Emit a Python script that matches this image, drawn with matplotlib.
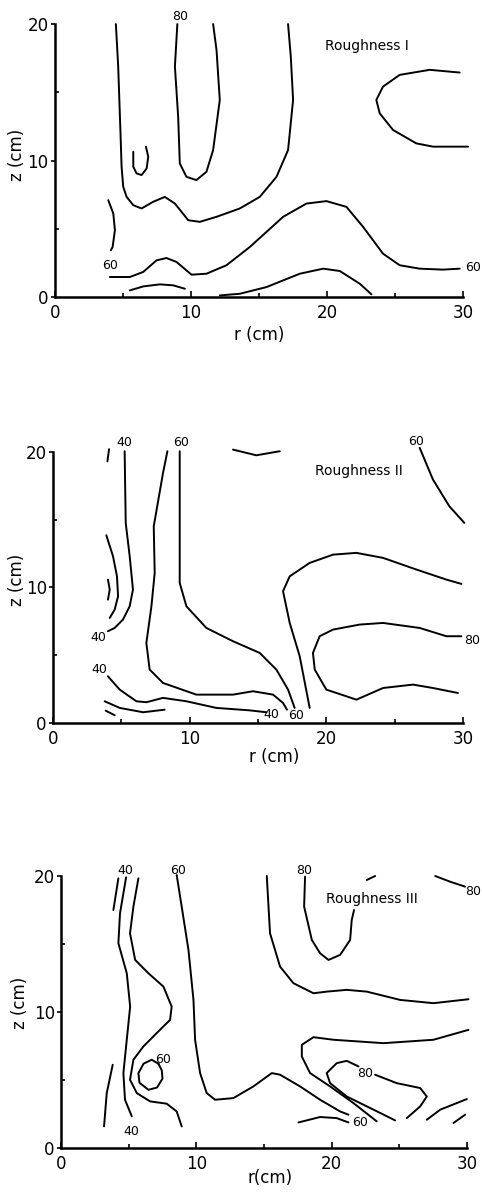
import matplotlib.pyplot as plt
from matplotlib.ticker import MultipleLocator

plt.rcParams['font.family'] = ['DejaVu Sans']

## contour lines, (r, z) in cm

# Roughness I
r1_outer = [(4.48, 20.0), (4.65, 16.9), (4.82, 12.0), (4.9, 9.55), (5.02, 8.08), (5.27, 7.34),
            (5.76, 6.73), (6.37, 6.49), (7.22, 6.98), (8.08, 7.34), (8.82, 6.85), (9.80, 5.63),
            (10.65, 5.51), (11.88, 5.88), (13.59, 6.49), (15.06, 7.34), (16.29, 8.81),
            (17.14, 10.77), (17.51, 14.44), (17.34, 17.63), (17.14, 20.0)]
r1_80 = [(9.0, 20.0), (8.82, 16.9), (9.06, 13.2), (9.18, 9.79), (9.67, 8.81), (10.4, 8.57),
         (11.14, 9.18), (11.63, 10.77), (12.12, 14.44), (11.88, 18.1), (11.63, 20.0)]
r1_u = [(5.76, 10.65), (5.76, 9.55), (6.0, 9.06), (6.37, 8.94), (6.74, 9.42), (6.86, 10.28),
        (6.69, 11.02)]
r1_right = [(29.76, 16.45), (27.56, 16.65), (25.35, 16.28), (24.12, 15.42), (23.63, 14.44),
            (23.88, 13.46), (24.86, 12.24), (26.57, 11.26), (27.8, 11.02), (30.37, 11.02)]
r1_60 = [(4.04, 1.47), (5.51, 1.47), (6.49, 1.84), (7.47, 2.69), (8.2, 2.86), (8.94, 2.57),
         (10.04, 1.64), (11.14, 1.71), (12.61, 2.33), (14.33, 3.67), (16.78, 5.88),
         (18.49, 6.85), (19.96, 7.03), (21.43, 6.61), (22.66, 5.14), (24.12, 3.18),
         (25.35, 2.33), (26.82, 2.08), (28.53, 2.01), (29.76, 2.08)]
r1_left = [(3.92, 7.1), (4.29, 6.12), (4.41, 4.9), (4.24, 3.67), (4.11, 3.43)]
r1_low1 = [(5.51, 0.49), (6.49, 0.78), (7.71, 0.93), (8.69, 0.86), (9.55, 0.61)]
r1_low2 = [(12.12, 0.12), (13.59, 0.24), (15.55, 0.73), (18.0, 1.71), (19.72, 2.08),
           (20.94, 1.91), (22.41, 0.98), (23.27, 0.2)]
r1_labels = [("80", 9.18, 20.56), ("60", 4.04, 2.33), ("60", 30.74, 2.2)]

# Roughness II
r2_tick = [(3.98, 19.3), (4.1, 20.2)]
r2_40 = [(5.24, 20.05), (5.32, 14.76), (5.61, 12.3), (5.85, 9.84), (5.61, 8.61), (5.12, 7.63),
         (4.51, 7.01), (4.02, 6.77)]
r2_arc = [(3.9, 13.85), (4.39, 12.3), (4.68, 10.82), (4.76, 9.35), (4.51, 8.36), (4.15, 7.75)]
r2_arc2 = [(4.02, 10.58), (4.15, 9.84), (4.02, 9.1)]
r2_60a = [(8.37, 20.05), (8.05, 18.45), (7.37, 14.51), (7.44, 11.07), (7.2, 8.61), (6.83, 5.9),
          (7.07, 3.94), (8.05, 2.95), (10.49, 2.09), (13.17, 2.09), (14.63, 2.34), (16.1, 2.09),
          (16.83, 1.48), (17.12, 0.98)]
r2_60b = [(9.27, 20.05), (9.27, 10.33), (9.76, 8.61), (11.22, 7.01), (13.17, 6.03),
          (15.12, 5.17), (16.34, 3.94), (17.2, 2.46), (17.68, 1.11)]
r2_top = [(13.17, 20.17), (14.88, 19.75), (16.59, 20.05)]
r2_60r = [(26.83, 20.3), (27.8, 17.96), (29.0, 15.99), (30.1, 14.76)]
r2_70 = [(18.78, 1.11), (18.05, 4.92), (17.32, 7.38), (16.83, 9.72), (17.32, 10.82),
         (18.78, 11.81), (20.49, 12.42), (22.2, 12.55), (24.15, 12.18), (26.59, 11.32),
         (28.78, 10.58), (29.88, 10.26)]
r2_80 = [(29.88, 6.4), (28.78, 6.4), (26.83, 7.01), (24.15, 7.38), (22.44, 7.26), (20.49, 6.89),
         (19.51, 6.4), (19.02, 5.17), (19.15, 3.94), (20.0, 2.46), (22.2, 1.72), (24.15, 2.58),
         (26.34, 2.83), (27.8, 2.58), (29.63, 2.21)]
r2_40b = [(4.02, 3.44), (4.88, 2.46), (6.1, 1.6), (6.83, 1.53), (8.05, 1.85), (9.76, 1.6),
          (11.95, 1.11), (14.39, 0.93), (15.61, 0.79)]
r2_low1 = [(3.78, 1.6), (4.88, 1.11), (6.59, 0.79), (8.17, 0.98)]
r2_low2 = [(3.85, 0.91), (4.51, 0.57)]
r2_labels = [("40", 5.24, 20.66), ("60", 9.39, 20.66), ("60", 26.59, 20.79), ("40", 3.29, 6.27),
             ("40", 3.41, 3.94), ("40", 15.98, 0.62), ("60", 17.8, 0.54), ("80", 30.68, 6.1)]

# Roughness III
r3_tick = [(3.87, 17.5), (4.24, 19.83)]
r3_40 = [(4.81, 19.9), (4.36, 17.26), (4.24, 15.06), (4.86, 12.85), (5.11, 10.4), (4.86, 7.96),
         (4.61, 5.51), (4.73, 3.55), (5.23, 2.33)]
r3_left = [(3.82, 6.12), (3.38, 4.04), (3.18, 1.59)]
r3_50 = [(5.72, 19.83), (5.35, 17.75), (5.1, 15.79), (5.48, 13.83), (6.46, 12.85),
         (7.57, 11.87), (8.18, 10.4), (8.06, 9.42), (7.07, 8.45), (6.09, 7.47), (5.35, 6.49),
         (5.1, 5.02), (5.6, 4.04), (6.58, 3.43), (7.81, 3.26), (8.55, 2.69), (8.92, 1.59)]
r3_loop = [(7.2, 6.2), (6.7, 6.49), (6.1, 6.2), (5.72, 5.5), (5.8, 4.8), (6.46, 4.28),
           (7.1, 4.45), (7.5, 5.1), (7.45, 5.7), (7.2, 6.2)]
r3_60 = [(8.55, 20.07), (8.92, 17.75), (9.42, 14.57), (9.79, 10.89), (9.91, 7.96),
         (10.28, 5.51), (10.77, 4.04), (11.39, 3.55), (12.74, 3.67), (14.22, 4.53),
         (15.58, 5.51), (16.19, 5.39), (17.67, 4.53), (19.15, 3.55), (20.63, 2.69),
         (21.25, 2.45)]
r3_70 = [(30.12, 8.69), (27.53, 7.96), (23.84, 7.71), (20.14, 7.96), (18.66, 8.15),
         (17.8, 7.59), (17.8, 6.73), (18.41, 5.51), (19.89, 4.53), (21.62, 3.3), (23.34, 1.96)]
r3_80a = [(24.7, 2.03), (23.1, 2.82), (21.12, 3.79), (19.89, 4.77), (19.64, 5.51),
          (20.38, 6.24), (21.12, 6.41), (21.99, 6.0)]
r3_80b = [(23.22, 5.39), (24.82, 4.77), (26.55, 4.41), (27.04, 3.79), (26.55, 3.06),
          (25.56, 2.2)]
r3_low = [(17.55, 1.88), (19.15, 2.28), (20.38, 2.2), (21.25, 1.88)]
r3_br1 = [(27.04, 2.08), (28.03, 2.82), (30.0, 3.6)]
r3_br2 = [(29.01, 1.84), (29.87, 2.45)]
r3_upper = [(15.21, 20.0), (15.45, 15.79), (16.19, 13.34), (17.18, 12.12), (18.66, 11.38),
            (19.64, 11.5), (21.12, 11.63), (22.6, 11.5), (25.07, 10.89), (27.53, 10.65),
            (30.12, 10.94)]
r3_80top = [(18.04, 19.95), (17.97, 17.75), (18.54, 15.3), (19.15, 14.32), (19.77, 13.83),
            (20.63, 14.2), (21.37, 15.3), (21.49, 16.77), (21.66, 17.5)]
r3_dash = [(22.6, 19.71), (23.22, 20.0)]
r3_corner = [(27.66, 20.0), (28.77, 19.58), (29.87, 19.22)]
r3_labels = [("40", 4.73, 20.39), ("60", 8.68, 20.44), ("80", 17.97, 20.44), ("80", 30.49, 18.85),
             ("60", 7.57, 6.54), ("80", 22.48, 5.51), ("60", 22.11, 1.88), ("40", 5.23, 1.22)]

panels = [
    dict(rect=[0.114, 0.751, 0.8465, 0.2288], title="Roughness I", tpos=(19.84, 18.36),
         curves=[r1_outer, r1_80, r1_u, r1_right, r1_60, r1_left, r1_low1, r1_low2],
         labels=r1_labels, xlab="r (cm)", xl=(0.5, -0.14), yl=(-0.092, 0.52)),
    dict(rect=[0.110, 0.394, 0.8506, 0.2272], title="Roughness II", tpos=(19.15, 18.57),
         curves=[r2_tick, r2_40, r2_arc, r2_arc2, r2_60a, r2_60b, r2_top, r2_60r, r2_70,
                 r2_80, r2_40b, r2_low1, r2_low2],
         labels=r2_labels, xlab="r (cm)", xl=(0.54, -0.125), yl=(-0.088, 0.528)),
    dict(rect=[0.1266, 0.0377, 0.842, 0.228], title="Roughness III", tpos=(19.6, 18.31),
         curves=[r3_tick, r3_40, r3_left, r3_50, r3_loop, r3_60, r3_70, r3_80a, r3_80b,
                 r3_low, r3_br1, r3_br2, r3_upper, r3_80top, r3_dash, r3_corner],
         labels=r3_labels, xlab="r(cm)", xl=(0.515, -0.11), yl=(-0.1, 0.533)),
]

fig = plt.figure(figsize=(4.82, 11.93), dpi=100)

for p in panels:
    ax = fig.add_axes(p['rect'])
    for c in p['curves']:
        rr = [q[0] for q in c]
        zz = [q[1] for q in c]
        ax.plot(rr, zz, color='black', lw=1.4, clip_on=False,
                solid_capstyle='round', solid_joinstyle='round')
    for txt, r, z in p['labels']:
        ax.text(r, z, txt, fontsize=9, ha='center', va='center', clip_on=False)
    ax.text(p['tpos'][0], p['tpos'][1], p['title'], fontsize=10, ha='left', va='center')

    ax.set_xlim(0, 30)
    ax.set_ylim(0, 20)
    for s in ['top', 'right']:
        ax.spines[s].set_visible(False)
    for s in ['left', 'bottom']:
        ax.spines[s].set_linewidth(1.8)
    ax.xaxis.set_major_locator(MultipleLocator(10))
    ax.xaxis.set_minor_locator(MultipleLocator(5))
    ax.yaxis.set_major_locator(MultipleLocator(10))
    ax.yaxis.set_minor_locator(MultipleLocator(5))
    ax.tick_params(axis='x', which='major', direction='in', length=4, width=1.2,
                   labelsize=12, pad=5)
    ax.tick_params(axis='x', which='minor', direction='in', length=3, width=1.2)
    ax.tick_params(axis='y', which='major', direction='out', length=3, width=1.2,
                   labelsize=12, pad=1.5)
    ax.tick_params(axis='y', which='minor', direction='in', length=3, width=1.2)

    ax.set_xlabel(p['xlab'], fontsize=12)
    ax.set_ylabel("z (cm)", fontsize=12)
    ax.xaxis.set_label_coords(*p['xl'])
    ax.yaxis.set_label_coords(*p['yl'])
    ax.xaxis.label.set_va('center')
    ax.yaxis.label.set_va('center')

fig.savefig("out.png", dpi=100)
